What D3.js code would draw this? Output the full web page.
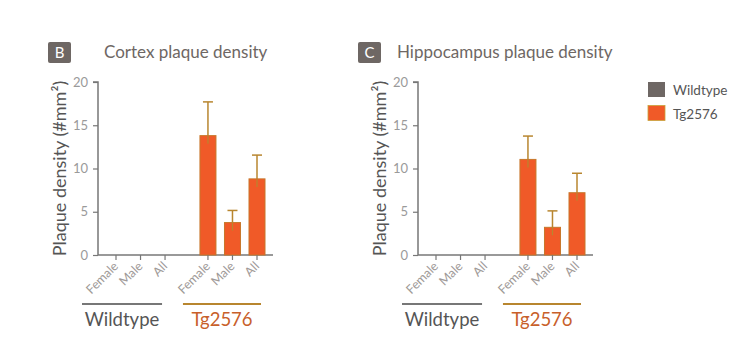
<!DOCTYPE html>
<html><head><meta charset="utf-8">
<script src="https://cdn.jsdelivr.net/npm/d3@7"></script>
<style>body{margin:0;background:#fff}svg{display:block}text{font-family:Lato,"Open Sans",sans-serif}</style>
</head><body>
<script>
const categories = ["Female","Male","All"];
const groups = ["Wildtype","Tg2576"];
const yTicks = [0,5,10,15,20];
const panelLetters = ["B","C"];
const panelTitles = ["Cortex plaque density","Hippocampus plaque density"];
const cortexMean = [null,null,null, 13.8,3.75,8.8];
const cortexErr  = [null,null,null, 17.7,5.15,11.55];
const hippoMean  = [null,null,null, 11.05,3.2,7.2];
const hippoErr   = [null,null,null, 13.75,5.1,9.45];
const yLabel = "Plaque density (#mm²)";

const W=750,H=359;
const svg=d3.select("body").append("svg").attr("width",W).attr("height",H);
const orange="#f05a28", barEdge="#c7772a", errCol="#b8862f", gray="#6e6764", tgText="#c8602a";

const panels=[{x0:98,mean:cortexMean,err:cortexErr},{x0:418,mean:hippoMean,err:hippoErr}];
const y=d3.scaleLinear().domain([0,20]).range([255,82]);

panels.forEach((p,pi)=>{
  const g=svg.append("g");
  const slots=[];
  groups.forEach((gr,gi)=>categories.forEach((c,ci)=>slots.push({gi,ci,s:gi*3.75+ci,i:slots.length})));
  const x=d3.scaleLinear().domain([0,5.75]).range([p.x0+18,p.x0+159]);
  const bx = pi===0? 48 : 358;
  g.append("rect").attr("x",bx).attr("y",42).attr("width",23).attr("height",21).attr("rx",2).attr("fill",gray);
  g.append("text").attr("x",bx+11.5).attr("y",58).attr("text-anchor","middle").attr("fill","#fff").attr("font-size",15).text(panelLetters[pi]);
  g.append("text").attr("x",bx+56-(pi===0?0:17)).attr("y",58).attr("fill",gray).attr("font-size",17).text(panelTitles[pi]);
  const ya=g.append("g").attr("transform",`translate(${p.x0},0)`).call(d3.axisLeft(y).tickValues(yTicks).tickSize(5).tickPadding(5));
  ya.select(".domain").attr("stroke","#777").attr("stroke-width",1.5).attr("d",`M-5,${y(20)}H0V${y(0)}`);
  ya.selectAll(".tick line").attr("stroke","#777").attr("stroke-width",1.2);
  ya.selectAll(".tick text").attr("fill","#9a9a9a").attr("font-size",13).attr("font-family","Lato,sans-serif");
  g.append("text").attr("transform",`translate(${p.x0-32},${y(10)}) rotate(-90)`).attr("text-anchor","middle")
    .attr("fill","#555").attr("font-size",18).text(yLabel);
  g.append("line").attr("x1",p.x0).attr("x2",p.x0+175).attr("y1",y(0)).attr("y2",y(0)).attr("stroke","#777").attr("stroke-width",1.5);
  const bw=16;
  slots.forEach(s=>{
    const v=p.mean[s.i], e=p.err[s.i], cx=x(s.s);
    if(v!=null){
      g.append("line").attr("x1",cx).attr("x2",cx).attr("y1",y(v)).attr("y2",y(e)).attr("stroke",errCol).attr("stroke-width",1.5);
      g.append("line").attr("x1",cx-5).attr("x2",cx+5).attr("y1",y(e)).attr("y2",y(e)).attr("stroke",errCol).attr("stroke-width",1.5);
      g.append("rect").attr("x",cx-bw/2).attr("y",y(v)).attr("width",bw).attr("height",y(0)-y(v))
        .attr("fill",orange).attr("stroke",barEdge).attr("stroke-width",1);
      g.append("line").attr("x1",cx).attr("x2",cx).attr("y1",y(v)).attr("y2",y(v)+8).attr("stroke",errCol).attr("stroke-width",1.2);
    }
    g.append("line").attr("x1",cx).attr("x2",cx).attr("y1",y(0)).attr("y2",y(0)+5).attr("stroke","#777").attr("stroke-width",1.2);
    g.append("text").attr("transform",`translate(${cx+3},${y(0)+12}) rotate(-45)`).attr("text-anchor","end")
      .attr("fill","#a09a98").attr("font-size",12.5).text(categories[s.ci]);
  });
  groups.forEach((gr,gi)=>{
    const xs=x(gi*3.75)-(gi===0?34:25), xe=x(gi*3.75+2)+(gi===0?-3:4);
    const col = gi===0? "#777":errCol;
    g.append("line").attr("x1",xs).attr("x2",xe).attr("y1",304).attr("y2",304).attr("stroke",col).attr("stroke-width",2);
    g.append("text").attr("x",(xs+xe)/2).attr("y",326).attr("text-anchor","middle")
      .attr("fill",gi===0?"#555":tgText).attr("font-size",18.5).text(gr);
  });
});
const leg=svg.append("g");
groups.forEach((gr,gi)=>{
  leg.append("rect").attr("x",648).attr("y",82+gi*23.5).attr("width",17).attr("height",15)
    .attr("fill",gi===0?gray:orange).attr("stroke",gi===0?"none":"#c9a23a").attr("stroke-width",0.8);
  leg.append("text").attr("x",673).attr("y",95+gi*23.5).attr("fill","#555").attr("font-size",13.5).text(gr);
});
</script>
</body></html>
